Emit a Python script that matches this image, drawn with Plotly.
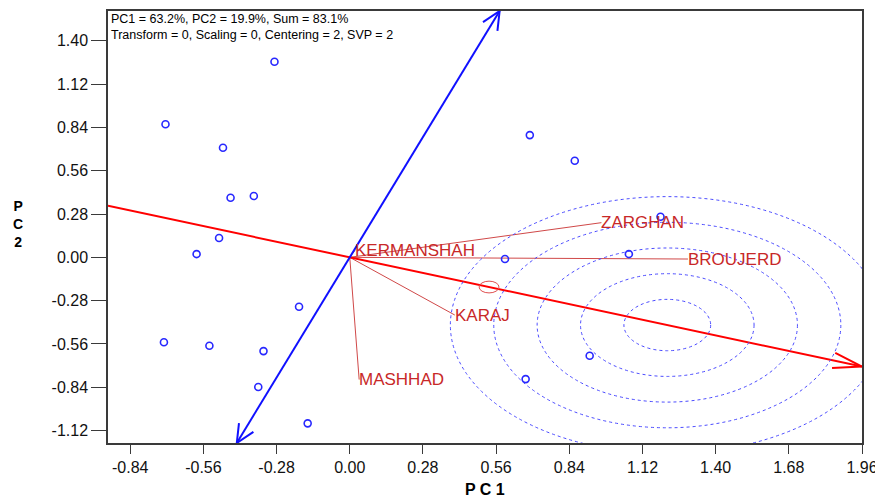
import math
import plotly.graph_objects as go

# ---------------- data ----------------
genotype_x = [-0.288, -0.705, -0.485, -0.456, -0.367, -0.500, -0.586, -0.194, -0.711, -0.537,
              -0.330, -0.350, -0.161, 0.594, 1.068, 1.189, 0.918, 0.673, 0.689, 0.861]
genotype_y = [1.264, 0.860, 0.708, 0.385, 0.396, 0.125, 0.021, -0.319, -0.549, -0.571,
              -0.606, -0.838, -1.073, -0.011, 0.021, 0.262, -0.636, -0.787, 0.790, 0.624]

env_names = ["ZARGHAN", "BROUJERD", "KERMANSHAH", "KARAJ", "MASHHAD"]
env_x = [0.963, 1.294, 0.020, 0.402, 0.036]
env_y = [0.224, -0.011, 0.045, -0.373, -0.790]

avg_env = [0.533, -0.192]          # average environment marker (on AEA)
avg_env_radius = 0.038
aea_x_ends = [-0.925, 1.96]        # average-environment axis extent
aec_y_ends = [-1.20, 1.592]        # AEC ordinate extent
ideal_x = 1.215                    # centre of concentric rings (on AEA)
ring_radii = [0.166, 0.332, 0.498, 0.664, 0.830]

x_ticks = [-0.84, -0.56, -0.28, 0.00, 0.28, 0.56, 0.84, 1.12, 1.40, 1.68, 1.96]
y_ticks = [-1.12, -0.84, -0.56, -0.28, 0.00, 0.28, 0.56, 0.84, 1.12, 1.40]
x_range = [-0.925, 1.96]
y_range = [-1.20, 1.592]

header_lines = ["PC1 = 63.2%, PC2 = 19.9%, Sum = 83.1%",
                "Transform = 0, Scaling = 0, Centering = 2, SVP = 2"]

# ---------------- geometry helpers ----------------
# page body has an 8px default margin, so the figure is 8px smaller than the window
W, H = 875, 491
ML, MR, MT, MB = 100, 21, 3, 56
kx = (W - ML - MR) / (x_range[1] - x_range[0])
ky = (H - MT - MB) / (y_range[1] - y_range[0])

slope_aea = avg_env[1] / avg_env[0]
aea_y_ends = [slope_aea * v for v in aea_x_ends]
slope_aec = -1.0 / slope_aea
aec_x_ends = [v / slope_aec for v in aec_y_ends]
ideal_y = slope_aea * ideal_x


def head(tip, tail, length_px, ang_deg):
    dx = (tail[0] - tip[0]) * kx
    dy = (tail[1] - tip[1]) * ky
    n = math.hypot(dx, dy)
    dx, dy = dx / n, dy / n
    xs, ys = [], []
    for s in (1, -1):
        a = math.radians(ang_deg) * s
        rx = dx * math.cos(a) - dy * math.sin(a)
        ry = dx * math.sin(a) + dy * math.cos(a)
        xs.append(tip[0] + rx * length_px / kx)
        ys.append(tip[1] + ry * length_px / ky)
    return [xs[0], tip[0], xs[1]], [ys[0], tip[1], ys[1]]


fig = go.Figure()

# environment vectors
for nm, ex, ey in zip(env_names, env_x, env_y):
    fig.add_trace(go.Scatter(x=[0, ex], y=[0, ey], mode="lines",
                             line=dict(color="#d04848", width=1),
                             hoverinfo="skip", showlegend=False))

# AEA line (red) with arrow at the positive end
fig.add_trace(go.Scatter(x=aea_x_ends, y=aea_y_ends, mode="lines",
                         line=dict(color="#ff0000", width=2), showlegend=False))
hx, hy = head((aea_x_ends[1], aea_y_ends[1]), (aea_x_ends[0], aea_y_ends[0]), 30, 15)
fig.add_trace(go.Scatter(x=hx, y=hy, mode="lines",
                         line=dict(color="#ff0000", width=2), showlegend=False))

# AEC ordinate (blue) with arrows at both ends
fig.add_trace(go.Scatter(x=aec_x_ends, y=aec_y_ends, mode="lines",
                         line=dict(color="#1010ff", width=2), showlegend=False))
for i, j in ((0, 1), (1, 0)):
    hx, hy = head((aec_x_ends[i], aec_y_ends[i]), (aec_x_ends[j], aec_y_ends[j]), 20, 25)
    fig.add_trace(go.Scatter(x=hx, y=hy, mode="lines",
                             line=dict(color="#1010ff", width=2), showlegend=False))

# genotypes
fig.add_trace(go.Scatter(x=genotype_x, y=genotype_y, mode="markers",
                         marker=dict(symbol="circle-open", size=7, color="#2828ff",
                                     line=dict(width=1.6, color="#2828ff")),
                         showlegend=False))

shapes = []
for r in ring_radii:
    shapes.append(dict(type="circle", xref="x", yref="y",
                       x0=ideal_x - r, x1=ideal_x + r, y0=ideal_y - r, y1=ideal_y + r,
                       line=dict(color="#4a4aff", width=1, dash="3px,3px")))
shapes.append(dict(type="circle", xref="x", yref="y",
                   x0=avg_env[0] - avg_env_radius, x1=avg_env[0] + avg_env_radius,
                   y0=avg_env[1] - avg_env_radius, y1=avg_env[1] + avg_env_radius,
                   line=dict(color="#e05050", width=1)))

annotations = []
for nm, ex, ey in zip(env_names, env_x, env_y):
    annotations.append(dict(x=ex, y=ey, xref="x", yref="y", text=nm, showarrow=False,
                            xanchor="left", yanchor="middle", xshift=-2,
                            font=dict(family="Liberation Sans, Arial", size=17, color="#c82828")))
annotations.append(dict(x=0, y=1, xref="paper", yref="paper", text="<br>".join(header_lines),
                        showarrow=False, align="left",
                        xanchor="left", yanchor="top", xshift=1, yshift=1,
                        font=dict(family="Liberation Sans, Arial", size=12.5, color="#000000")))
annotations.append(dict(x=0.5, y=0, xref="paper", yref="paper", text="<b>P C 1</b>",
                        showarrow=False, xanchor="center", yanchor="top", yshift=-36,
                        font=dict(family="Liberation Sans, Arial", size=16, color="#000000")))
annotations.append(dict(x=0, y=0.5, xref="paper", yref="paper", text="<b>P<br>C<br>2</b>",
                        showarrow=False, xanchor="center", yanchor="middle", xshift=-90, yshift=3,
                        font=dict(family="Liberation Sans, Arial", size=14, color="#000000")))

axis_common = dict(showgrid=False, zeroline=False, showline=True, mirror=True,
                   linecolor="#3a3a3a", linewidth=1.5, ticks="outside",
                   tickcolor="#3a3a3a", tickwidth=1, automargin=False,
                   tickfont=dict(family="Liberation Sans, Arial", size=16, color="#111111"))

fig.update_layout(
    width=W, height=H, autosize=False,
    margin=dict(l=ML, r=MR, t=MT, b=MB, pad=0, autoexpand=False),
    plot_bgcolor="white", paper_bgcolor="white",
    shapes=shapes, annotations=annotations,
    xaxis=dict(range=x_range, tickvals=x_ticks,
               ticktext=[f"{v:.2f}" for v in x_ticks], ticklen=9, **axis_common),
    yaxis=dict(range=y_range, tickvals=y_ticks,
               ticktext=[f"{v:.2f}" for v in y_ticks], ticklen=15, **axis_common),
)

fig.write_html("out.html")
